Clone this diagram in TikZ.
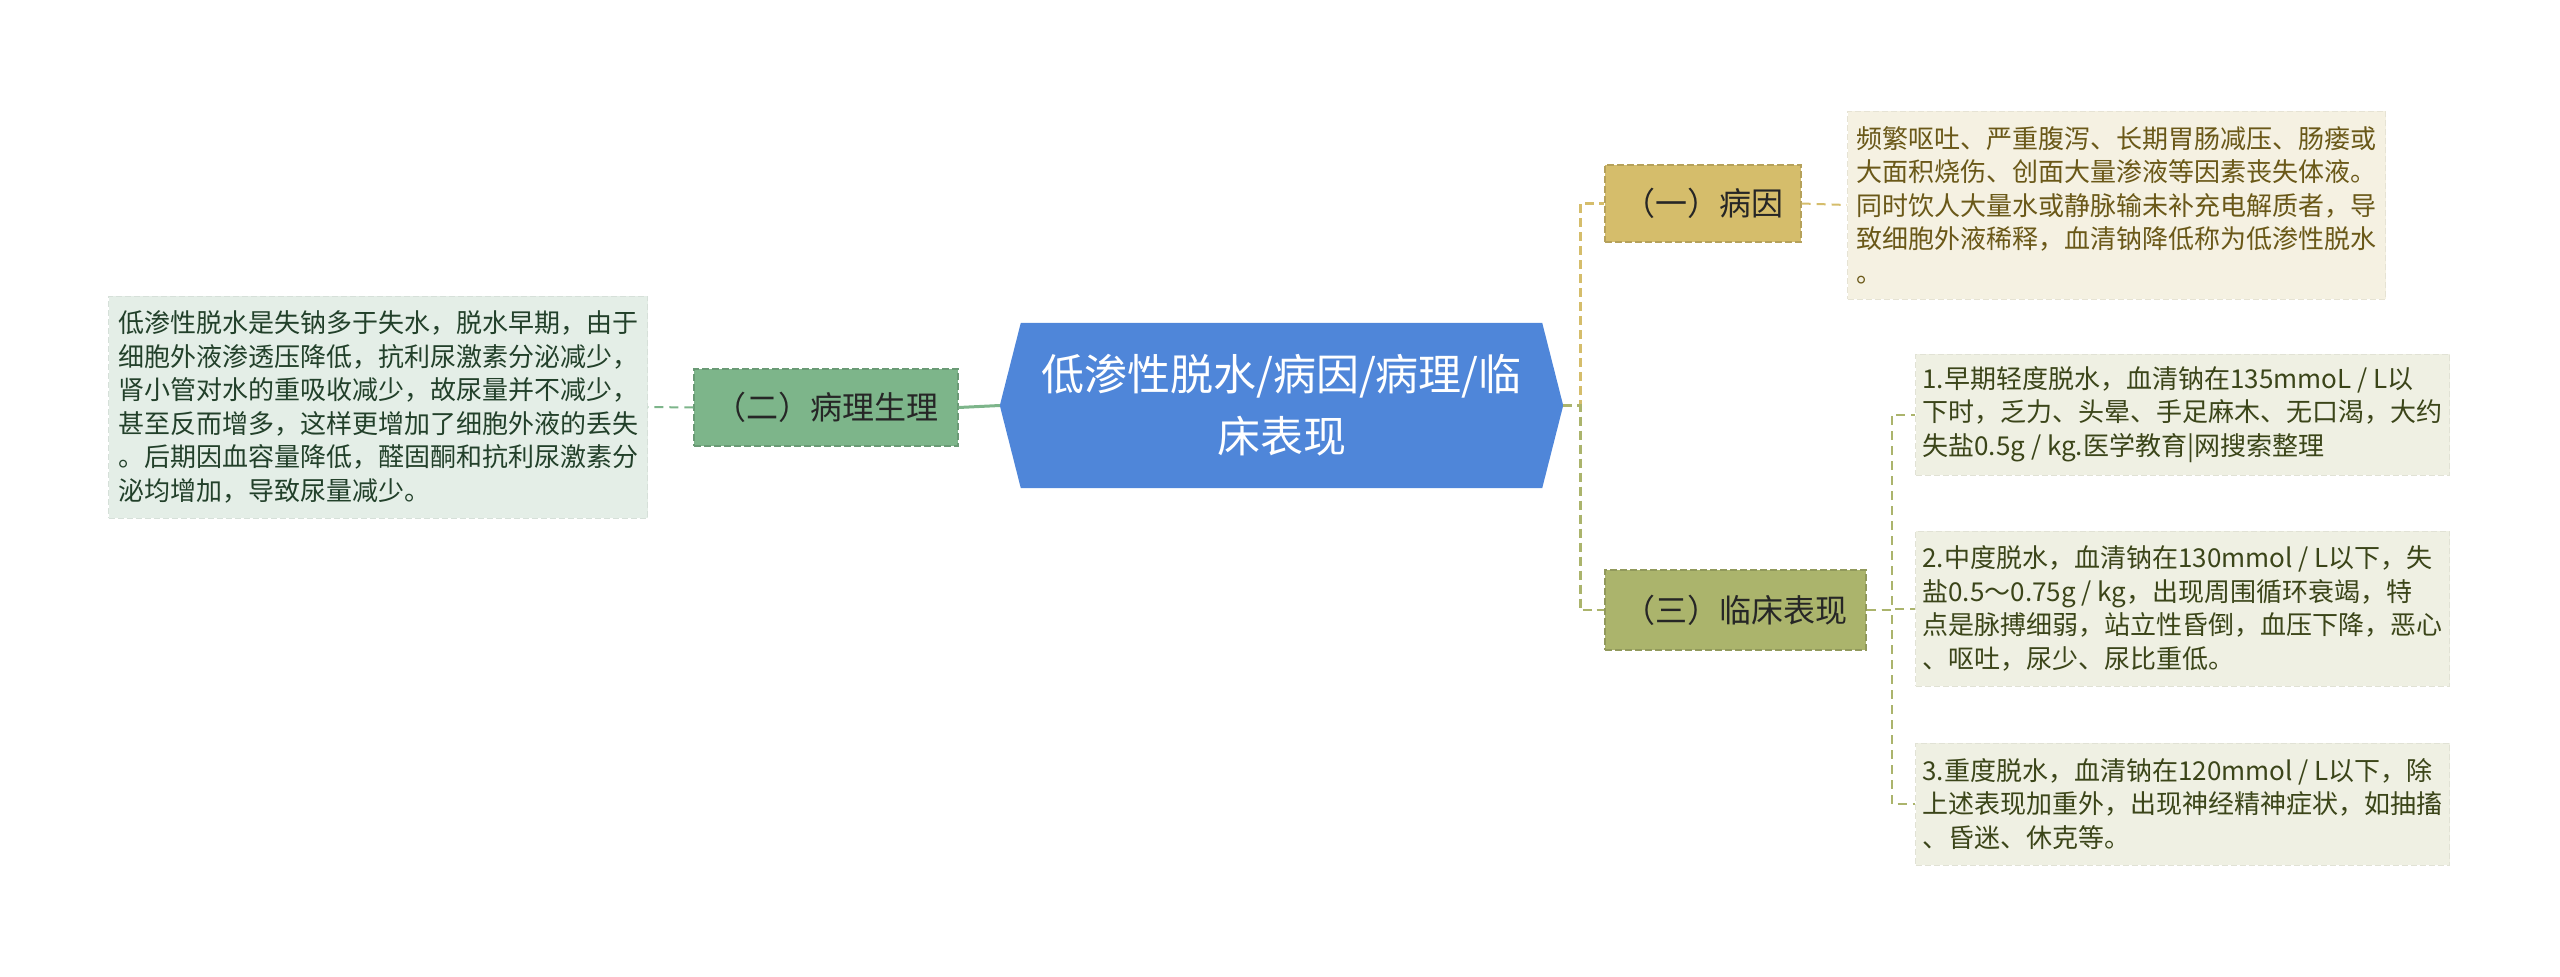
\documentclass[tikz,border=0pt]{standalone}
\usepackage{fontspec}
\usepackage{xcolor}
\usepackage{tikz}
\usetikzlibrary{calc, backgrounds}
\newfontfamily\cjk{Noto Sans CJK SC}

\definecolor{hubblue}{HTML}{4F86D9}
\definecolor{pathgreen}{HTML}{7DB58A}
\definecolor{pathpale}{HTML}{E4EEE7}
\definecolor{pathink}{HTML}{22402A}
\definecolor{causegold}{HTML}{D5BD6B}
\definecolor{causepale}{HTML}{F5F1E2}
\definecolor{causeink}{HTML}{6A5818}
\definecolor{signolive}{HTML}{ABB46C}
\definecolor{signpale}{HTML}{EFF0E3}
\definecolor{signink}{HTML}{3B4519}

\tikzset{
  hubnode/.style={minimum width=521, minimum height=165, inner sep=0pt, align=center,
    text=white, font=\cjk\fontsize{43}{62}\selectfont},
  branch/.style={fill=#1, draw=#1!85!black, dash pattern=on 7pt off 3pt, line width=1.2pt,
    minimum height=77, inner sep=0pt, text=black!85, font=\cjk\fontsize{32}{38}\selectfont},
  leaf/.style 2 args={fill=#1, draw=#1!94!black, dash pattern=on 6pt off 3pt, line width=1pt,
    anchor=west, align=left, inner sep=0pt, text=#2, font=\cjk\fontsize{26}{33.5}\selectfont},
  trunk/.style={line width=2.7pt, dash pattern=on 9pt off 5pt},
  twig/.style={line width=2pt, dash pattern=on 9pt off 6pt},
}

\begin{document}
\begin{tikzpicture}[x=1pt, y=-1pt]
\useasboundingbox (0,0) rectangle (2560,977);
% Centre topic
\node[hubnode] (hub) at (1281.5,405.5) {低渗性脱水/病因/病理/临\\床表现};
\coordinate (hubL) at ($(hub.west)+(-21,0)$);
\coordinate (hubR) at ($(hub.east)+(21,0)$);
\begin{scope}[on background layer]
  \fill[hubblue] (hub.north west) -- (hub.north east) -- (hubR) -- (hub.south east)
    -- (hub.south west) -- (hubL) -- cycle;
\end{scope}
% Branches
\node[branch=pathgreen, minimum width=264] (patho) at (826,407.5) {（二）病理生理};
\node[branch=causegold, minimum width=196] (cause) at (1703,203.5) {（一）病因};
\node[branch=signolive, minimum width=261, minimum height=80] (sign) at (1735.5,610) {（三）临床表现};
% Leaves
\node[leaf={pathpale}{pathink}, minimum width=539, minimum height=222] (patholeaf) at (108,407)
  {低渗性脱水是失钠多于失水，脱水早期，由于\\
   细胞外液渗透压降低，抗利尿激素分泌减少，\\
   肾小管对水的重吸收减少，故尿量并不减少，\\
   甚至反而增多，这样更增加了细胞外液的丢失\\
   。后期因血容量降低，醛固酮和抗利尿激素分\\
   泌均增加，导致尿量减少。};
\node[leaf={causepale}{causeink}, minimum width=538, minimum height=188] (causeleaf) at (1847,205)
  {频繁呕吐、严重腹泻、长期胃肠减压、肠瘘或\\
   大面积烧伤、创面大量渗液等因素丧失体液。\\
   同时饮人大量水或静脉输未补充电解质者，导\\
   致细胞外液稀释，血清钠降低称为低渗性脱水\\
   。};
\node[leaf={signpale}{signink}, minimum width=534, minimum height=121] (sign1) at (1915,414.5)
  {1.早期轻度脱水，血清钠在135mmoL / L以\\
   下时，乏力、头晕、手足麻木、无口渴，大约\\
   失盐0.5g / kg.医学教育|网搜索整理};
\node[leaf={signpale}{signink}, minimum width=534, minimum height=155] (sign2) at (1915,608.5)
  {2.中度脱水，血清钠在130mmol / L以下，失\\
   盐0.5～0.75g / kg，出现周围循环衰竭，特\\
   点是脉搏细弱，站立性昏倒，血压下降，恶心\\
   、呕吐，尿少、尿比重低。};
\node[leaf={signpale}{signink}, minimum width=534, minimum height=122] (sign3) at (1915,804)
  {3.重度脱水，血清钠在120mmol / L以下，除\\
   上述表现加重外，出现神经精神症状，如抽搐\\
   、昏迷、休克等。};
% Connectors
\draw[pathgreen, line width=3pt] (hubL) -- (patho.east);
\draw[pathgreen, twig] (patho.west) -- (patholeaf.east);
\draw[causegold, trunk] (hubR) -- ++(17,0) |- (cause.west);
\draw[signolive, trunk] (hubR) -- ++(17,0) |- (sign.west);
\draw[causegold, twig] (cause.east) -- (causeleaf.west);
\foreach \leafname in {sign1, sign2, sign3}
  \draw[signolive, twig] (sign.east) -- ++(25,0) |- (\leafname.west);
\end{tikzpicture}
\end{document}
